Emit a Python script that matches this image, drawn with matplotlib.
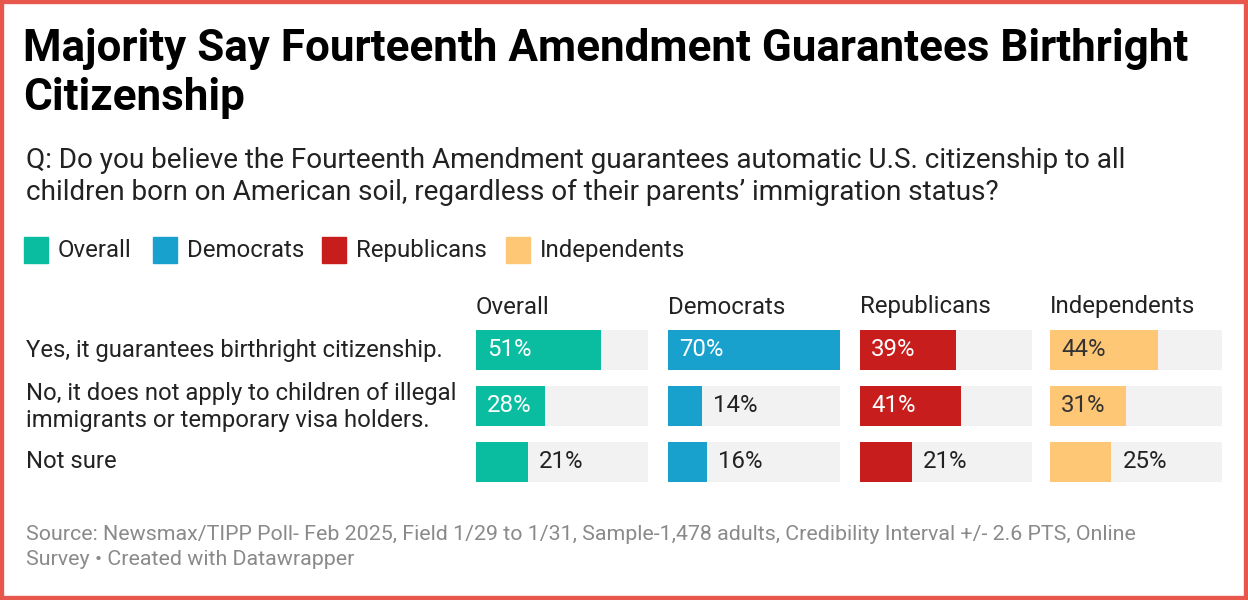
import matplotlib.pyplot as plt
from matplotlib.patches import Rectangle

plt.rcParams['font.family'] = ['Roboto', 'DejaVu Sans']

title = "Majority Say Fourteenth Amendment Guarantees Birthright\nCitizenship"
subtitle = ("Q: Do you believe the Fourteenth Amendment guarantees automatic U.S. citizenship to all\n"
            "children born on American soil, regardless of their parents\u2019 immigration status?")
footer = ("Source: Newsmax/TIPP Poll- Feb 2025, Field 1/29 to 1/31, Sample-1,478 adults, Credibility Interval +/- 2.6 PTS, Online\n"
          "Survey \u2022 Created with Datawrapper")

answers = ["Yes, it guarantees birthright citizenship.",
           "No, it does not apply to children of illegal\nimmigrants or temporary visa holders.",
           "Not sure"]
groups = ["Overall", "Democrats", "Republicans", "Independents"]
overall = [51, 28, 21]
democrats = [70, 14, 16]
republicans = [39, 41, 21]
independents = [44, 31, 25]
values = [overall, democrats, republicans, independents]
colors = ["#0ABDA0", "#18A1CD", "#C71E1D", "#FDC775"]
label_colors = ["white", "white", "white", "#333333"]

W, H = 1248, 600
fig = plt.figure(figsize=(W / 100, H / 100), dpi=100)
fig.patch.set_facecolor("white")


def fx(px):
    return px / W


def fy(py):
    return 1 - py / H


# title, subtitle
fig.text(fx(23), fy(28), title, fontsize=31.7, fontweight="bold", color="black",
         va="top", ha="left", linespacing=1.2)
fig.text(fx(26), fy(147), subtitle, fontsize=20.1, color="#222222",
         va="top", ha="left", linespacing=1.25)

# legend
leg_x = [24, 153, 322, 506]
for g, c, x in zip(groups, colors, leg_x):
    fig.patches.append(Rectangle((fx(x), fy(263)), fx(24), 26 / H, color=c,
                                 transform=fig.transFigure, figure=fig))
    fig.text(fx(x + 34), fy(250), g, fontsize=17.3, color="#222222", va="center", ha="left")

# columns of bars
col_x = [476, 668, 860, 1050]
col_w = 172
vmax = 70
for i in range(4):
    ax = fig.add_axes([fx(col_x[i]), fy(482), fx(col_w), (482 - 330) / H])
    ys = list(range(len(answers)))
    ax.barh(ys, [vmax] * len(ys), height=40 / 56, color="#F2F2F2", left=0)
    ax.barh(ys, values[i], height=40 / 56, color=colors[i], left=0)
    for y, v in zip(ys, values[i]):
        if v >= 27:
            ax.text(11 * vmax / col_w, y, f"{v}%", color=label_colors[i],
                    fontsize=17.3, va="center", ha="left")
        else:
            ax.text(v + 11 * vmax / col_w, y, f"{v}%", color="#222222",
                    fontsize=17.3, va="center", ha="left")
    ax.set_xlim(0, vmax)
    ax.set_ylim(2 + 20 / 56, -20 / 56)
    ax.axis("off")
    fig.text(fx(col_x[i]), fy(307), groups[i], fontsize=17.3, color="#222222",
             va="center", ha="left")

# row labels
row_y = [350, 407, 462]
for a, y in zip(answers, row_y):
    fig.text(fx(26), fy(y), a, fontsize=17.2, color="#222222", va="center", ha="left",
             linespacing=1.25)

fig.text(fx(26), fy(525), footer, fontsize=15.4, color="#8A8A8A", va="top", ha="left",
         linespacing=1.4)

# border
fig.patches.append(Rectangle((0, 0), 1, 1, fill=False, edgecolor="#E8574B", linewidth=6,
                             transform=fig.transFigure, figure=fig))

fig.savefig("out.png", dpi=100)
